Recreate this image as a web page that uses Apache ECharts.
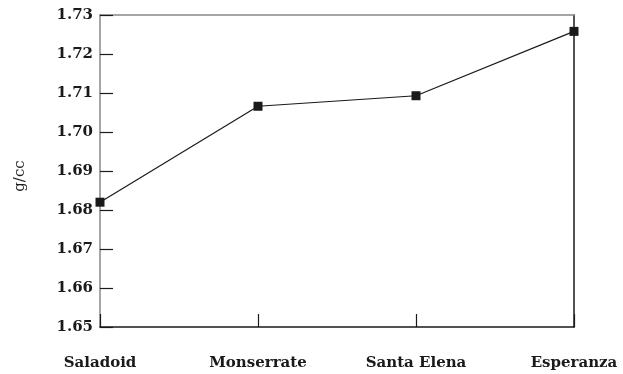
<!DOCTYPE html>
<html>
<head>
<meta charset="utf-8">
<script src="https://cdn.jsdelivr.net/npm/echarts@6/dist/echarts.min.js"></script>
<style>
  html, body { margin: 0; padding: 0; background: #fff; }
  #chart { width: 623px; height: 374px; }
</style>
</head>
<body>
<div id="chart"></div>
<script>
// Bulk density by cultural period
const sites = ['Saladoid', 'Monserrate', 'Santa Elena', 'Esperanza'];
const density = [1.682, 1.7066, 1.7093, 1.7258];
const yMin = 1.65, yMax = 1.73, yStep = 0.01;

const FONT = 'DejaVu Serif';
const INK = '#1a1a1a';
const TEXT = { color: INK, fontFamily: FONT, fontSize: 15, fontWeight: 'bold' };

const chart = echarts.init(document.getElementById('chart'), null, { renderer: 'canvas' });
chart.setOption({
  animation: false,
  grid: { left: 100, right: 49, top: 15, bottom: 47, outerBoundsMode: 'none', containLabel: false },
  xAxis: [
    {
      type: 'category',
      data: sites,
      boundaryGap: false,
      axisLine: { lineStyle: { color: INK, width: 1.5 } },
      axisTick: { inside: true, length: 13, lineStyle: { color: INK, width: 1.2 } },
      axisLabel: Object.assign({ margin: 29 }, TEXT),
      splitLine: { show: false }
    },
    {
      type: 'category',
      data: sites,
      boundaryGap: false,
      position: 'top',
      axisLine: { lineStyle: { color: '#888', width: 1.5 } },
      axisTick: { show: false },
      axisLabel: { show: false }
    }
  ],
  yAxis: [
    {
      type: 'value',
      min: yMin,
      max: yMax,
      interval: yStep,
      name: 'g/cc',
      nameLocation: 'middle',
      nameGap: 72,
      nameRotate: 90,
      nameTextStyle: { color: INK, fontFamily: FONT, fontSize: 15, padding: [0, 10, 0, 0] },
      axisLine: { show: true, lineStyle: { color: '#888', width: 1.5 } },
      axisTick: { show: true, inside: true, length: 13, lineStyle: { color: INK, width: 1.2 } },
      axisLabel: Object.assign({ margin: 7, formatter: v => v.toFixed(2) }, TEXT),
      splitLine: { show: false }
    },
    {
      type: 'value',
      min: yMin,
      max: yMax,
      position: 'right',
      axisLine: { show: true, lineStyle: { color: INK, width: 1.5 } },
      axisTick: { show: false },
      axisLabel: { show: false },
      splitLine: { show: false }
    }
  ],
  series: [
    {
      type: 'line',
      data: density,
      symbol: 'rect',
      symbolSize: 9,
      lineStyle: { color: INK, width: 1.2 },
      itemStyle: { color: INK },
      clip: false
    }
  ]
});
</script>
</body>
</html>
